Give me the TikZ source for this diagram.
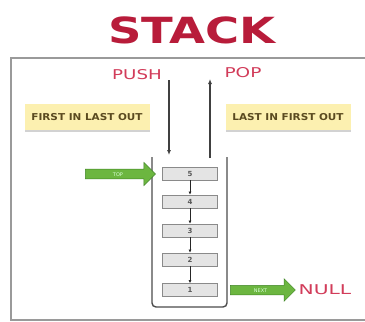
\documentclass[tikz,border=0pt]{standalone}
\usepackage{fontspec}
\setmainfont{DejaVu Sans}
\usetikzlibrary{shapes.arrows,shadows,arrows.meta}
\definecolor{titlered}{HTML}{B81C3A}
\definecolor{labelred}{HTML}{D23C5A}
\definecolor{framegray}{HTML}{9A9A9A}
\definecolor{boxyellow}{HTML}{FCF0B0}
\definecolor{boxtext}{HTML}{5A4A20}
\definecolor{cellfill}{HTML}{E4E4E4}
\definecolor{cellline}{HTML}{8A8A8A}
\definecolor{arrgreen}{HTML}{6CB640}
\definecolor{arrgreendark}{HTML}{3F8526}
\begin{document}
\begin{tikzpicture}[x=1pt,y=-1pt,
  titlestyle/.style={text=titlered,font=\fontsize{36}{36}\selectfont\bfseries,xscale=1.29},
  redlabel/.style={text=labelred,font=\fontsize{13.5}{13.5}\selectfont,inner sep=0pt},
  yellowbox/.style={fill=boxyellow,draw=none,minimum width=125pt,minimum height=26pt,
    drop shadow={shadow xshift=0pt,shadow yshift=-2pt,opacity=0.35}},
  boxlabel/.style={text=boxtext,font=\fontsize{9.5}{9.5}\selectfont\bfseries,inner sep=0pt,xscale=1.1},
  cellbox/.style={fill=cellfill,draw=cellline,line width=0.8pt,minimum width=55pt,minimum height=13pt,
    inner sep=0pt,font=\fontsize{7}{7}\selectfont\bfseries,text=black!65},
  linkarrow/.style={draw=black!85,line width=0.9pt,-{Latex[length=3pt,width=3pt]}},
  bigarrow/.style={draw=black!75,line width=1.1pt,-{Latex[length=5pt,width=4pt]}},
  greenarrow/.style={single arrow,single arrow head extend=6.5pt,fill=arrgreen,draw=arrgreendark,
    line width=0.5pt,text=green!15,font=\fontsize{5}{5}\selectfont,inner xsep=2pt,inner ysep=2.5pt,
    text height=4pt,text depth=0pt,anchor=center},
  container/.style={draw=black!70,line width=1.4pt,rounded corners=4pt},
  frameline/.style={draw=framegray,line width=2.5pt}
]
\useasboundingbox (0,0) rectangle (365,322);
\fill[white] (0,0) rectangle (365,322);

% title
\node[titlestyle] (title) at (192,30) {STACK};

% frame
\draw[frameline] (365,58) -- (11,58) -- (11,320) -- (365,320);

% labels
\node[redlabel,xscale=1.35] (push) at (137,75) {PUSH};
\node[redlabel,xscale=1.37] (pop) at (243,73) {POP};

\node[yellowbox] (filo) at (87,117) {};
\node[boxlabel] (filotext) at (filo) {FIRST IN LAST OUT};
\node[yellowbox] (lifo) at (288,117) {};
\node[boxlabel] (lifotext) at (lifo) {LAST IN FIRST OUT};

% container
\draw[container] (152,157) -- (152,307) -- (227,307) -- (227,157);

% cells
\node[cellbox] (c5) at (190,173.5) {5};
\node[cellbox] (c4) at (190,201.5) {4};
\node[cellbox] (c3) at (190,230.5) {3};
\node[cellbox] (c2) at (190,259.5) {2};
\node[cellbox] (c1) at (190,290) {1};

\draw[linkarrow] (c5.south) -- (c4.north);
\draw[linkarrow] (c4.south) -- (c3.north);
\draw[linkarrow] (c3.south) -- (c2.north);
\draw[linkarrow] (c2.south) -- (c1.north);

% push / pop arrows
\coordinate (pushA) at (169,80);
\coordinate (pushB) at (169,155);
\coordinate (popA) at (210,158);
\coordinate (popB) at (210,79);
\draw[bigarrow] (pushA) -- (pushB);
\draw[bigarrow] (popA) -- (popB);

% green arrows
\node[greenarrow,minimum height=70pt,minimum width=23pt] (top) at (118,174) {TOP};
\node[greenarrow,minimum height=65pt,minimum width=21pt] (next) at (260.5,290) {NEXT};
\node[redlabel,xscale=1.5] (null) at (325,290) {NULL};
\end{tikzpicture}
\end{document}
